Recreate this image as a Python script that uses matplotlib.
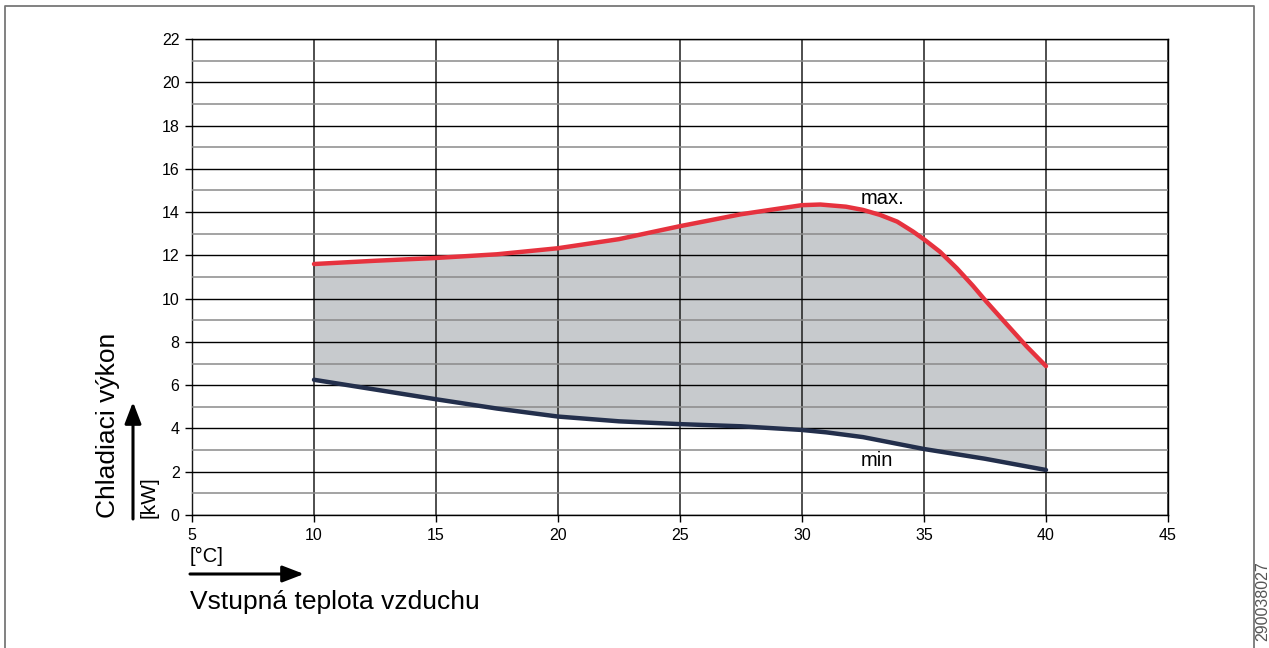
import matplotlib.pyplot as plt
import numpy as np
from matplotlib.ticker import MultipleLocator
from matplotlib.lines import Line2D

plt.rcParams['font.family'] = ['Liberation Sans', 'DejaVu Sans']

# max. curve
t_max = [10, 12.5, 15, 17.5, 20, 22.5, 25, 27.5, 29.1, 30, 30.75, 31.8, 32.5, 33.2, 33.9, 34.55,
         35, 35.65, 36.35, 37, 37.55, 38.4, 39.2, 40]
p_max = [11.6, 11.75, 11.88, 12.05, 12.33, 12.75, 13.35, 13.9, 14.17, 14.32, 14.35, 14.25, 14.1, 13.87,
         13.56, 13.1, 12.74, 12.17, 11.4, 10.6, 9.87, 8.8, 7.8, 6.88]
# min curve
t_min = [10, 12.5, 15, 17.5, 20, 22.5, 25, 27.5, 30, 31, 32.5, 35, 37.5, 40]
p_min = [6.25, 5.8, 5.35, 4.92, 4.55, 4.33, 4.2, 4.1, 3.93, 3.82, 3.6, 3.05, 2.6, 2.08]

x_ticks = [5, 10, 15, 20, 25, 30, 35, 40, 45]
y_ticks = [0, 2, 4, 6, 8, 10, 12, 14, 16, 18, 20, 22]

W, H = 1269, 648
fig = plt.figure(figsize=(W / 100, H / 100), dpi=100)
ax = fig.add_axes([192 / W, 1 - 515 / H, (1168 - 192) / W, (515 - 39) / H])


def fx(px):
    return px / W


def fy(py):
    return 1 - py / H


# shaded working area
poly_x = np.concatenate([t_max, t_min[::-1]])
poly_y = np.concatenate([p_max, p_min[::-1]])
ax.fill(poly_x, poly_y, color='#c7cacd', lw=0, zorder=1)

ax.plot(t_max, p_max, color='#e6323e', lw=3.2, solid_capstyle='round', solid_joinstyle='round', zorder=4)
ax.plot(t_min, p_min, color='#232f4c', lw=3.2, solid_capstyle='round', solid_joinstyle='round', zorder=4)

ax.text(33.3, 14.65, 'max.', fontsize=14.5, ha='center', va='center', zorder=5)
ax.text(33.05, 2.5, 'min', fontsize=14.5, ha='center', va='center', zorder=5)

ax.set_xlim(5, 45)
ax.set_ylim(0, 22)
ax.set_xticks(x_ticks)
ax.set_yticks(y_ticks)
ax.yaxis.set_minor_locator(MultipleLocator(1))
ax.set_axisbelow(False)
ax.grid(which='major', axis='y', color='black', lw=1.0, zorder=2)
ax.grid(which='minor', axis='y', color='#8a8a8a', lw=1.1, zorder=2)
ax.grid(which='major', axis='x', color='#1e1e1e', lw=1.1, zorder=2)
ax.tick_params(which='major', direction='out', length=5, width=1, labelsize=11.5, pad=4,
               top=False, right=False)
ax.tick_params(which='minor', length=0)
for s in ax.spines.values():
    s.set_color('black')
    s.set_linewidth(1.0)

# axis labels with arrows
fig.text(fx(108), fy(518), 'Chladiaci výkon', rotation=90, fontsize=19, ha='center', va='bottom')
fig.text(fx(149), fy(518), '[kW]', rotation=90, fontsize=15, ha='center', va='bottom')
ax.annotate('', xy=(fx(133), fy(402)), xytext=(fx(133), fy(519)), xycoords='figure fraction',
            arrowprops=dict(arrowstyle='-|>,head_length=1.3,head_width=0.5', color='black', lw=2.2,
                            shrinkA=0, shrinkB=0))

fig.text(fx(190), fy(556), '[°C]', fontsize=14.5, ha='left', va='center')
ax.annotate('', xy=(fx(304), fy(574)), xytext=(fx(190), fy(574)), xycoords='figure fraction',
            arrowprops=dict(arrowstyle='-|>,head_length=1.3,head_width=0.5', color='black', lw=2.2,
                            shrinkA=0, shrinkB=0))
fig.text(fx(190), fy(602), 'Vstupná teplota vzduchu', fontsize=19, ha='left', va='center')

fig.text(fx(1263), fy(641), '290038027', rotation=90, fontsize=11.5, color='#555555', ha='center', va='bottom')

# outer frame (open at the bottom)
frame = Line2D([fx(5), fx(5), fx(1254), fx(1254)], [0, fy(6), fy(6), 0], transform=fig.transFigure,
               color='#777777', lw=1.3)
fig.add_artist(frame)

fig.savefig('out.png', dpi=100)
